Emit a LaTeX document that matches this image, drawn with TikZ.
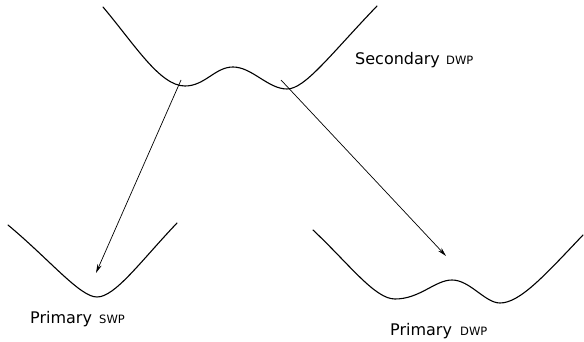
\documentclass[tikz,border=0pt]{standalone}
\usepackage{fontspec}
\setmainfont{DejaVu Sans}
\usetikzlibrary{arrows.meta}
\begin{document}
\begin{tikzpicture}[x=1pt,y=-1pt,
  well/.style={line width=1.1pt,line join=round,line cap=round},
  jump/.style={line width=0.7pt,-{Stealth[length=9pt,width=4.5pt]}},
  lbl/.style={anchor=base west,inner sep=0pt,font=\fontsize{16}{18}\selectfont},
  sub/.style={anchor=base west,inner sep=0pt,font=\fontsize{11.5}{13}\selectfont}]
\useasboundingbox (0,0) rectangle (584,342);
% top curve: secondary double well
\draw[well] (103,7) .. controls (135,45) and (160,86) .. (185,86)
  .. controls (205,86) and (215,67) .. (233,67)
  .. controls (252,67) and (268,89) .. (287,89)
  .. controls (305,89) and (330,55) .. (377,6);
% bottom left: primary single well
\draw[well] (8,225) .. controls (50,260) and (80,297) .. (97,297)
  .. controls (115,297) and (140,262) .. (177,223);
% bottom right: primary double well
\draw[well] (313,230) .. controls (350,265) and (375,299) .. (395,299)
  .. controls (420,299) and (435,280) .. (452,280)
  .. controls (470,280) and (485,303) .. (500,303)
  .. controls (520,303) and (545,275) .. (583,235);
% arrow endpoints
\coordinate (s1) at (181,80);
\coordinate (e1) at (96,273);
\coordinate (s2) at (281,80);
\coordinate (e2) at (446,256);
\draw[jump] (s1) -- (e1);
\draw[jump] (s2) -- (e2);
% labels
\node[lbl] (sec) at (355,65) {Secondary};
\node[sub] (secs) at (446,65) {DWP};
\node[lbl] (psw) at (30,323) {Primary};
\node[sub] (psws) at (99,323) {SWP};
\node[lbl] (pdw) at (390,335) {Primary};
\node[sub] (pdws) at (460,335) {DWP};
\end{tikzpicture}
\end{document}
